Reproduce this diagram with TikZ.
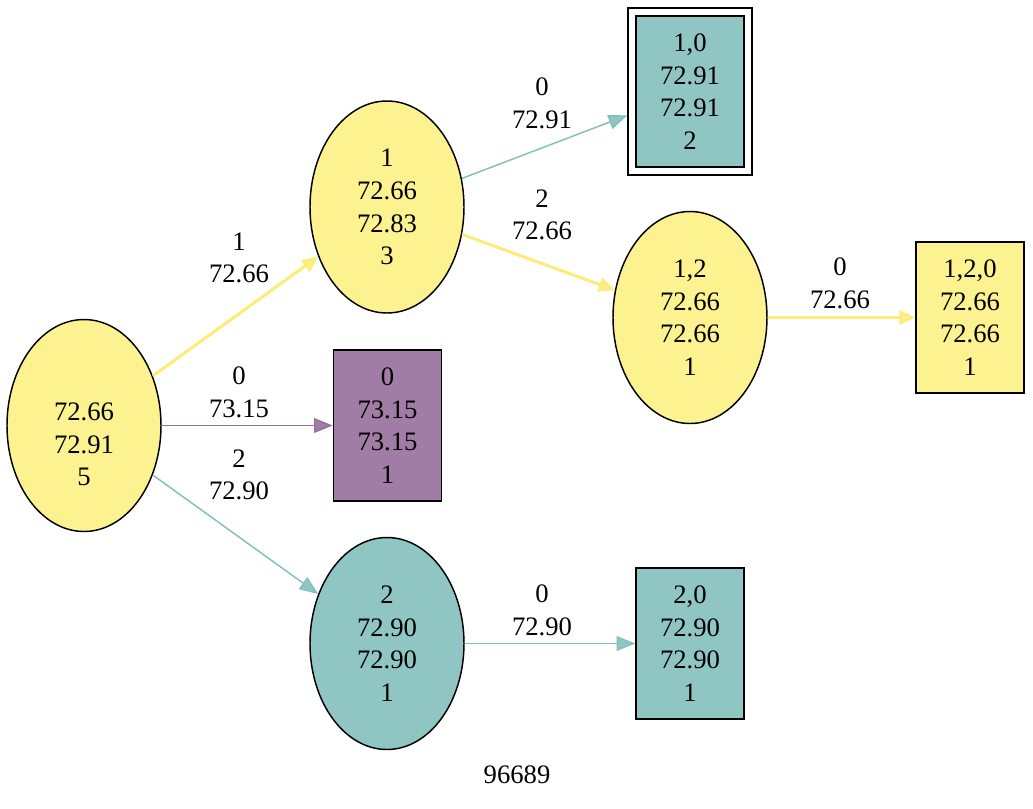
\documentclass[tikz,border=0pt]{standalone}
\usepackage{fontspec}
\setmainfont{Liberation Serif}
\usetikzlibrary{shapes.geometric,arrows.meta}
\definecolor{cyel}{RGB}{253,242,144}
\definecolor{cteal}{RGB}{143,198,196}
\definecolor{cpurp}{RGB}{160,125,165}
\definecolor{eyel}{RGB}{252,236,120}
\definecolor{eteal}{RGB}{130,192,190}
\definecolor{epurp}{RGB}{150,110,160}
\tikzset{
  txt/.style={font=\fontsize{20}{24.5}\selectfont, align=center, inner sep=0pt},
  ell/.style={txt, ellipse, draw=black, line width=1.1pt, minimum width=115.5pt, minimum height=159pt},
  box/.style={txt, rectangle, draw=black, line width=1.1pt, minimum width=81pt, minimum height=113.25pt},
  lbl/.style={txt},
  ey/.style={draw=eyel, line width=2.3pt, -{Triangle[length=12pt,width=10.5pt,fill=cyel]}},
  et/.style={draw=eteal, line width=1.1pt, -{Triangle[length=14pt,width=11pt,fill=cteal]}},
  ep/.style={draw=epurp, line width=1.1pt, -{Triangle[length=14pt,width=11pt,fill=cpurp]}},
}
\begin{document}
\begin{tikzpicture}[x=0.75pt,y=-0.75pt]
\useasboundingbox (0,0) rectangle (1033,808);
% nodes
\node[ell, fill=cyel] (r) at (84,425.5) {\strut\\72.66\\72.91\\5};
\node[ell, fill=cyel] (n1) at (387,207) {1\\72.66\\72.83\\3};
\node[ell, fill=cyel] (n12) at (690,317.5) {1,2\\72.66\\72.66\\1};
\node[ell, fill=cteal] (n2) at (387,643.5) {2\\72.90\\72.90\\1};
\node[box, fill=cpurp] (n0) at (387.5,425.5) {0\\73.15\\73.15\\1};
\node[box, fill=cyel] (n120) at (970,317.5) {1,2,0\\72.66\\72.66\\1};
\node[box, fill=cteal] (n20) at (690,643.5) {2,0\\72.90\\72.90\\1};
\node[rectangle, draw=black, line width=1.1pt, minimum width=93pt, minimum height=125.25pt, inner sep=0pt] (n10) at (690,91.5) {};
\node[box, fill=cteal] (n10i) at (690,91.5) {1,0\\72.91\\72.91\\2};
% edges
\draw[ey] (r) -- (n1);
\draw[ep] (r) -- (n0);
\draw[et] (r) -- (n2);
\draw[et] (n1) -- (n10);
\draw[ey] (n1) -- (n12);
\draw[ey] (n12) -- (n120);
\draw[et] (n2) -- (n20);
% edge labels
\node[lbl] (l1) at (239,258) {1\\72.66};
\node[lbl] (l0) at (239,392) {0\\73.15};
\node[lbl] (l2) at (239,475) {2\\72.90};
\node[lbl] (l10) at (542,103) {0\\72.91};
\node[lbl] (l12) at (542,215) {2\\72.66};
\node[lbl] (l120) at (840,283) {0\\72.66};
\node[lbl] (l20) at (542,610) {0\\72.90};
\node[lbl] (title) at (517,775) {96689};
\end{tikzpicture}
\end{document}
